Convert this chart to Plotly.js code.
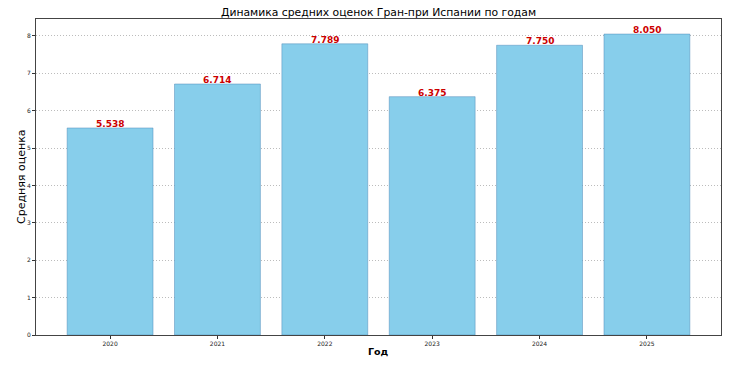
<!DOCTYPE html>
<html><head><meta charset="utf-8">
<script src="https://cdn.plot.ly/plotly-3.0.1.min.js"></script>
<style>html,body{margin:0;padding:0;background:#fff}#chart{width:730px;height:365px}</style>
</head><body><div id="chart"></div>
<script>
const years = ['2020','2021','2022','2023','2024','2025'];
const scores = [5.538, 6.714, 7.789, 6.375, 7.750, 8.050];
const labels = ['5.538','6.714','7.789','6.375','7.750','8.050'];
const yTicks = [0,1,2,3,4,5,6,7,8];

const xIdx = years.map((_, i) => i);

const trace = {
  type: 'bar',
  x: xIdx,
  y: scores,
  width: 0.8,
  marker: {color: '#87CEEB', line: {color: 'rgba(70,130,180,0.45)', width: 1}},
  hoverinfo: 'none'
};

const annotations = xIdx.map((xi, i) => ({
  x: xi, y: scores[i], xref: 'x', yref: 'y',
  text: labels[i], showarrow: false,
  xanchor: 'center', yanchor: 'bottom', yshift: -3,
  font: {family: 'DejaVu Sans', size: 9, color: '#CC0000', weight: 'bold'}
}));
annotations.push({
  xref: 'paper', yref: 'paper', x: (21 - 36) / 685, y: 0.5,
  text: 'Средняя оценка', showarrow: false, textangle: -90,
  xanchor: 'center', yanchor: 'middle',
  font: {family: 'DejaVu Sans', size: 11, color: '#000'}
});
annotations.push({
  xref: 'paper', yref: 'paper', x: 0.5, y: -(351 - 335) / 316,
  text: 'Год', showarrow: false,
  xanchor: 'center', yanchor: 'middle',
  font: {family: 'DejaVu Sans', size: 9.5, color: '#000', weight: 'bold'}
});

const layout = {
  width: 730, height: 365,
  margin: {l: 36, r: 9, t: 19, b: 30},
  paper_bgcolor: '#fff', plot_bgcolor: '#fff',
  showlegend: false,
  annotations: annotations,
  title: {text: 'Динамика средних оценок Гран-при Испании по годам', xref: 'paper', x: 0.5, xanchor: 'center',
          yref: 'container', y: 1 - 12 / 365, yanchor: 'middle',
          font: {family: 'DejaVu Sans', size: 10.8, color: '#000'}},
  xaxis: {
    range: [-0.69, 5.69], tickmode: 'array', tickvals: xIdx, ticktext: years,
    tickfont: {family: 'DejaVu Sans', size: 6, color: '#222'},
    ticks: 'outside', ticklen: 3, tickcolor: '#333',
    showline: true, linecolor: '#444', linewidth: 1, mirror: true,
    showgrid: false, zeroline: false
  },
  yaxis: {
    range: [0, 8.4525], tickmode: 'array', tickvals: yTicks,
    tickfont: {family: 'DejaVu Sans', size: 6, color: '#222'},
    ticks: 'outside', ticklen: 3, tickcolor: '#333',
    showline: true, linecolor: '#444', linewidth: 1, mirror: true,
    showgrid: true, gridcolor: 'rgba(160,160,160,0.7)', griddash: '1px,2px', gridwidth: 1,
    zeroline: false
  },
  bargap: 0.2
};

Plotly.newPlot('chart', [trace], layout, {staticPlot: true, displayModeBar: false});
</script></body></html>
